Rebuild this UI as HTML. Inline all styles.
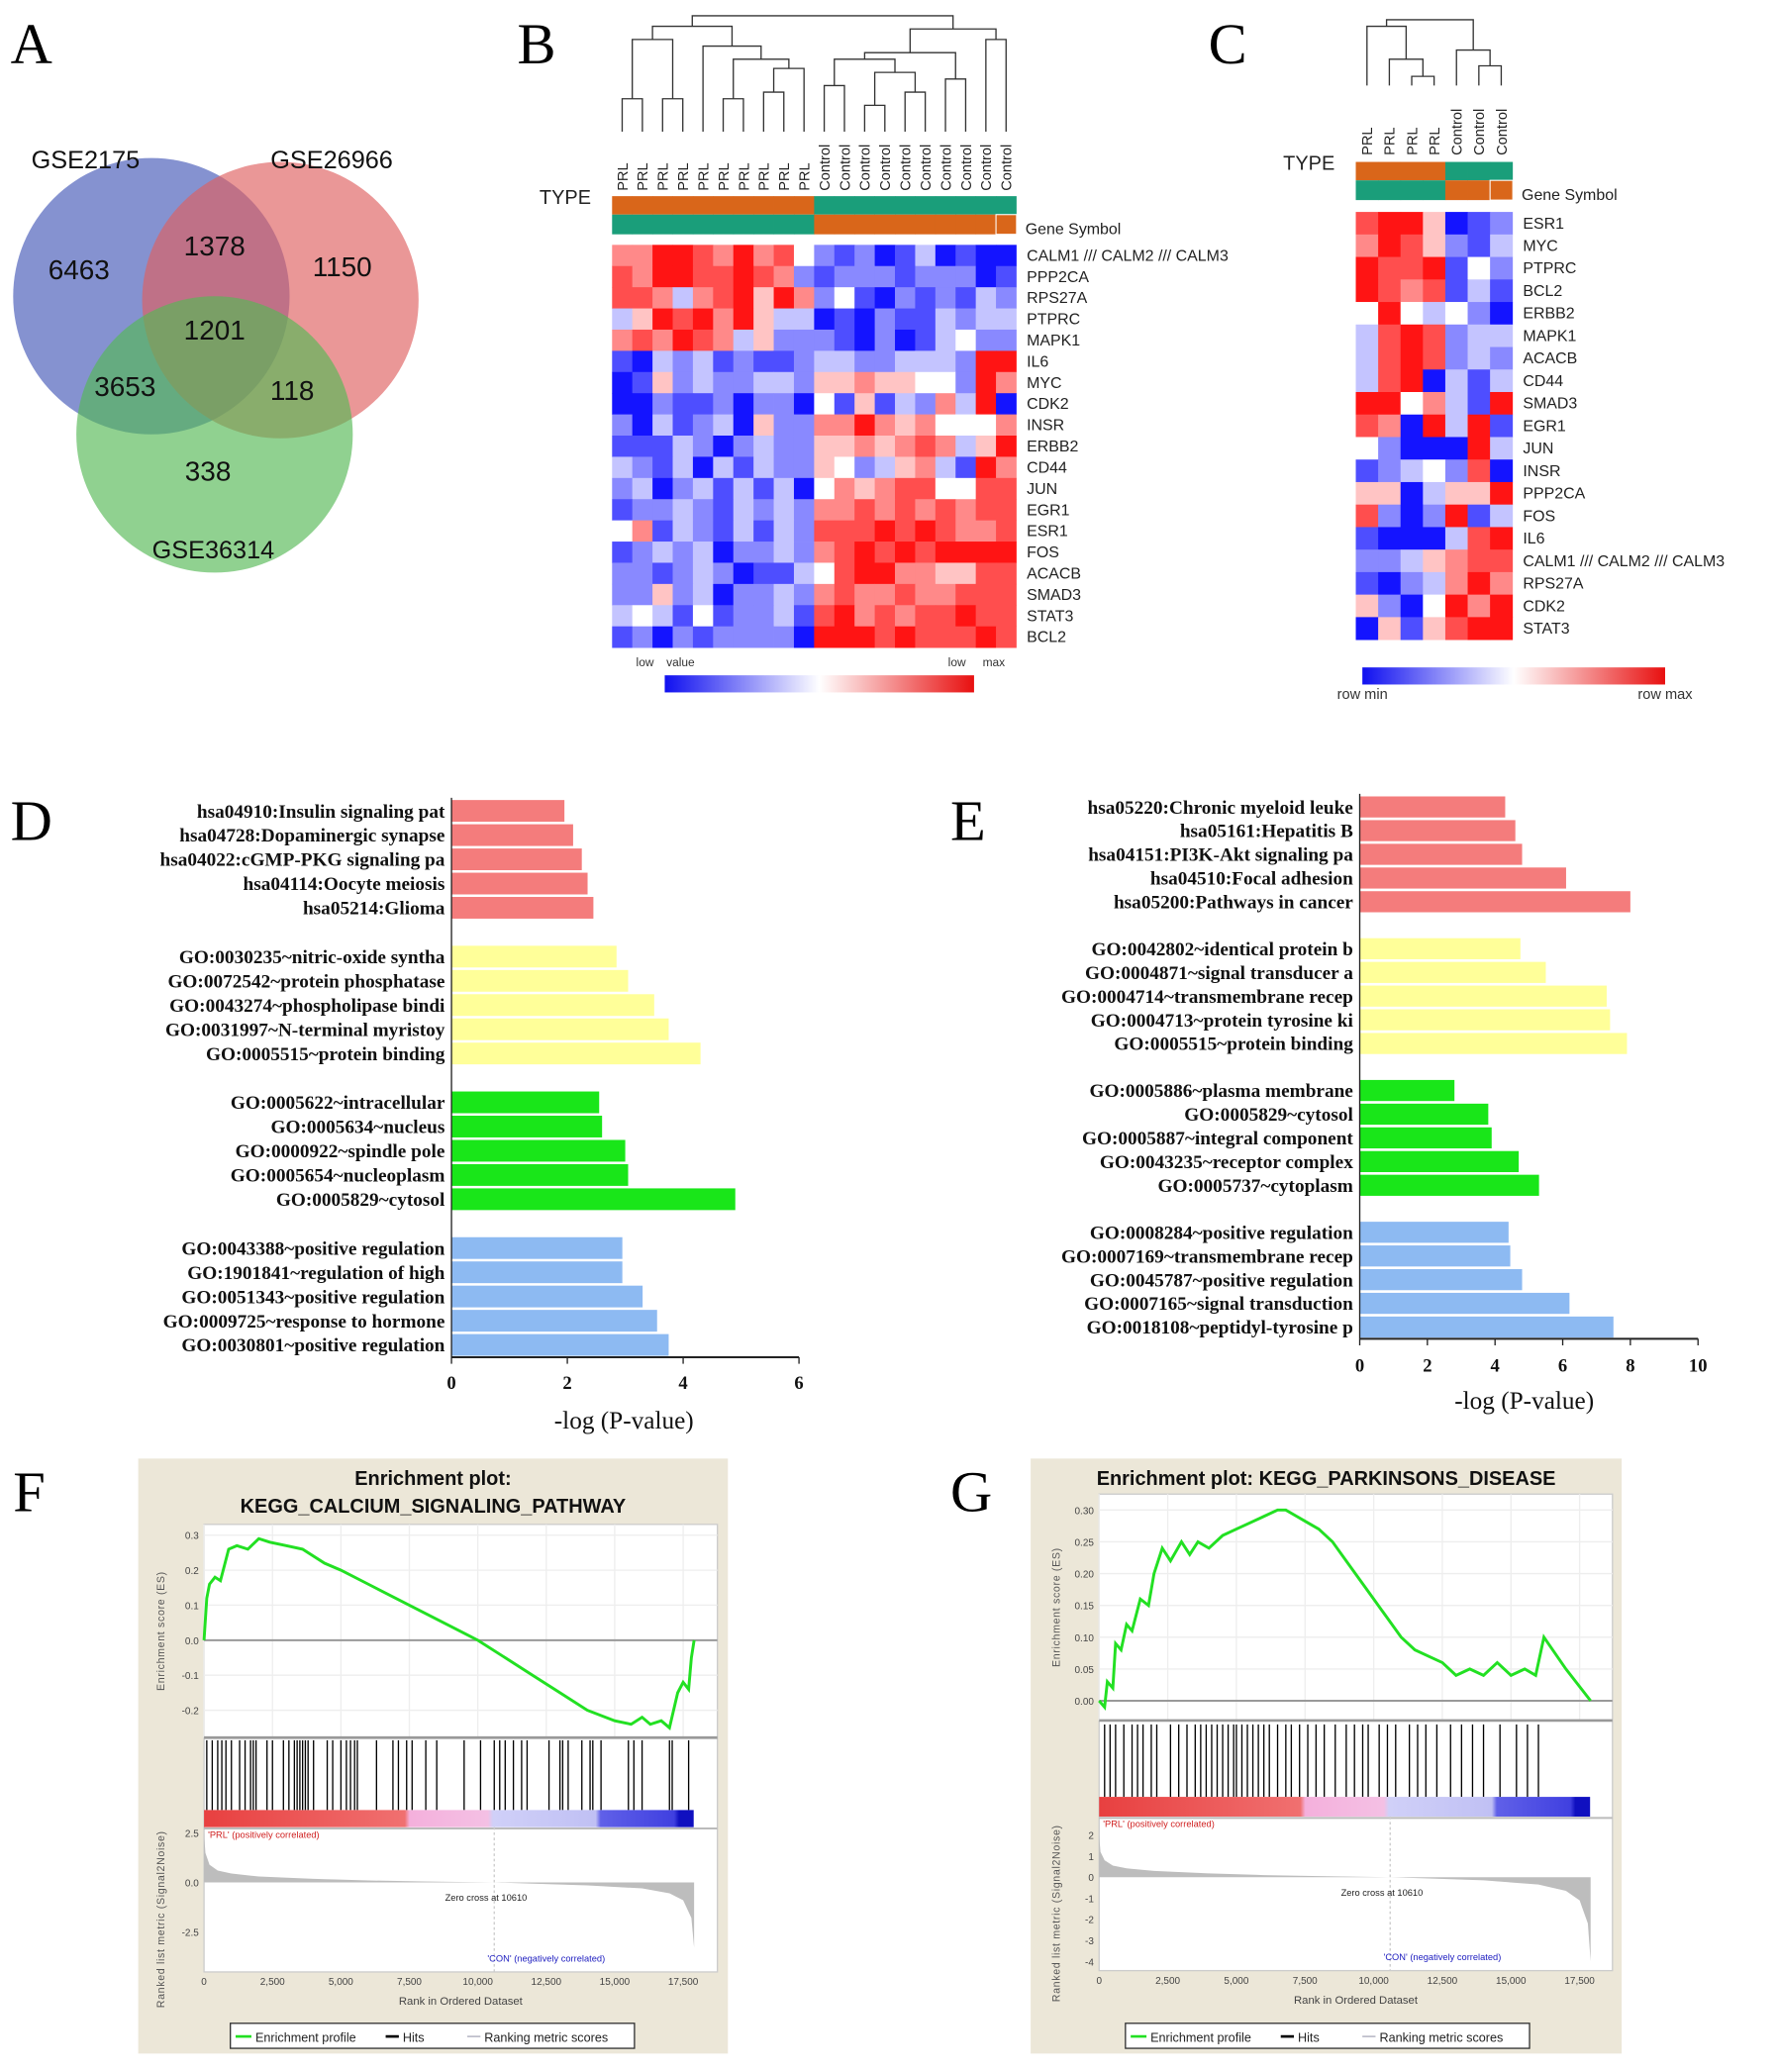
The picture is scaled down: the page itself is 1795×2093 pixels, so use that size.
<!DOCTYPE html>
<html><head><meta charset="utf-8"><style>
html,body{margin:0;padding:0;background:#fff;width:1795px;height:2093px;overflow:hidden}
svg{display:block}
.s{font-family:"Liberation Sans",sans-serif}
.r{font-family:"Liberation Serif",serif}
</style></head><body>
<svg id="fig" width="1795" height="2093" viewBox="0 0 1350 1574" preserveAspectRatio="none" xmlns="http://www.w3.org/2000/svg">
<g>
<text class="r" x="8" y="48" font-size="44">A</text>
<circle cx="115" cy="225" r="105" fill="#6677c4" fill-opacity="0.8"/>
<circle cx="213" cy="228" r="105" fill="#df5f5f" fill-opacity="0.65"/>
<circle cx="163" cy="330" r="105" fill="#55b855" fill-opacity="0.65"/>
<g class="s" font-size="19" fill="#111" text-anchor="middle">
<text x="65" y="128">GSE2175</text>
<text x="252" y="128">GSE26966</text>
<text x="162" y="424">GSE36314</text>
<g font-size="21">
<text x="60" y="212">6463</text>
<text x="163" y="194">1378</text>
<text x="260" y="210">1150</text>
<text x="163" y="258">1201</text>
<text x="95" y="301">3653</text>
<text x="222" y="304">118</text>
<text x="158" y="365">338</text>
</g></g></g>
<text class="r" x="393" y="48" font-size="44">B</text>
<text class="r" x="918" y="48" font-size="44">C</text>
<text class="r" x="8" y="638" font-size="44">D</text>
<text class="r" x="722" y="638" font-size="44">E</text>
<text class="r" x="10" y="1148" font-size="44">F</text>
<text class="r" x="722" y="1148" font-size="44">G</text>
<g id="gB"></g>
<g id="gC"></g>
<g id="gD"></g>
<g id="gE"></g>
<g id="gF"></g>
<g id="gG"></g>
</svg>
<script>
// ---------- data ----------
const bGenes=["CALM1 /// CALM2 /// CALM3","PPP2CA","RPS27A","PTPRC","MAPK1","IL6","MYC","CDK2","INSR","ERBB2","CD44","JUN","EGR1","ESR1","FOS","ACACB","SMAD3","STAT3","BCL2"];
const bSamples=["PRL","PRL","PRL","PRL","PRL","PRL","PRL","PRL","PRL","PRL","Control","Control","Control","Control","Control","Control","Control","Control","Control","Control"];
const bValues=["66887686742120130100","76887787621222122201","77636785862410212132","35878685330102113233","67687635222102013422","10323121123322333288","01523223325565544286","00211202204151326380","20312305226686564446","11132023225565676358","32130313225423563186","23023131304656774477","12232132326676767677","46132131327778787667","12323022326787878888","22123201134788665577","22523022326766766777","34314122317867677877","12021222208887877787"];
const bDendro=[[0,1,75],[2,3,75],[20,21,30],[5,6,75],[7,8,70],[24,9,52],[23,25,45],[4,26,35],[22,27,20],[10,11,65],[12,13,80],[14,15,70],[30,31,55],[29,32,45],[16,17,60],[33,34,40],[18,19,30],[35,36,22],[28,37,12]];
const cGenes=["ESR1","MYC","PTPRC","BCL2","ERBB2","MAPK1","ACACB","CD44","SMAD3","EGR1","JUN","INSR","PPP2CA","FOS","IL6","CALM1 /// CALM2 /// CALM3","RPS27A","CDK2","STAT3"];
const cSamples=["PRL","PRL","PRL","PRL","Control","Control","Control"];
const cValues=["7885012","6875213","8778142","8767131","4843420","3787233","3787232","3780313","8846318","7608381","4200083","1234270","5503558","7202813","1000378","2235677","1023686","5204868","0515788"];
const cDendro=[[2,3,58],[1,7,45],[0,8,20],[5,6,50],[4,10,38],[9,11,15]];

const dLabels=["hsa04910:Insulin signaling pat","hsa04728:Dopaminergic synapse","hsa04022:cGMP-PKG signaling pa","hsa04114:Oocyte meiosis","hsa05214:Glioma","GO:0030235~nitric-oxide syntha","GO:0072542~protein phosphatase","GO:0043274~phospholipase bindi","GO:0031997~N-terminal myristoy","GO:0005515~protein binding","GO:0005622~intracellular","GO:0005634~nucleus","GO:0000922~spindle pole","GO:0005654~nucleoplasm","GO:0005829~cytosol","GO:0043388~positive regulation","GO:1901841~regulation of high","GO:0051343~positive regulation","GO:0009725~response to hormone","GO:0030801~positive regulation"];
const dValues=[1.95,2.1,2.25,2.35,2.45,2.85,3.05,3.5,3.75,4.3,2.55,2.6,3.0,3.05,4.9,2.95,2.95,3.3,3.55,3.75];
const dTicks=[0,2,4,6];
const eLabels=["hsa05220:Chronic myeloid leuke","hsa05161:Hepatitis B","hsa04151:PI3K-Akt signaling pa","hsa04510:Focal adhesion","hsa05200:Pathways in cancer","GO:0042802~identical protein b","GO:0004871~signal transducer a","GO:0004714~transmembrane recep","GO:0004713~protein tyrosine ki","GO:0005515~protein binding","GO:0005886~plasma membrane","GO:0005829~cytosol","GO:0005887~integral component","GO:0043235~receptor complex","GO:0005737~cytoplasm","GO:0008284~positive regulation","GO:0007169~transmembrane recep","GO:0045787~positive regulation","GO:0007165~signal transduction","GO:0018108~peptidyl-tyrosine p"];
const eValues=[4.3,4.6,4.8,6.1,8.0,4.75,5.5,7.3,7.4,7.9,2.8,3.8,3.9,4.7,5.3,4.4,4.45,4.8,6.2,7.5];
const eTicks=[0,2,4,6,8,10];
const groupColors=["#f47c7c","#ffff99","#19e619","#8dbaf2"];

const fRank=[0,0.1,0.2,0.4,0.6,0.9,1.2,1.6,2.0,2.4,3.0,3.6,4.4,5.0,6.0,7.0,8.0,9.0,10.0,11.0,12.0,13.0,14.0,15.0,15.6,16.0,16.3,16.7,17.0,17.3,17.5,17.7,17.8,17.9];
const fES=[0,0.12,0.16,0.18,0.17,0.26,0.27,0.26,0.29,0.28,0.27,0.26,0.22,0.2,0.16,0.12,0.08,0.04,0.0,-0.05,-0.1,-0.15,-0.2,-0.23,-0.24,-0.22,-0.24,-0.23,-0.25,-0.15,-0.12,-0.14,-0.05,0.0];
const fHits=[0.1,0.3,0.5,0.65,0.8,1.0,1.3,1.5,1.7,1.8,1.9,2.3,2.5,2.9,3.1,3.3,3.4,3.5,3.6,3.7,3.8,4.0,4.5,4.7,5.0,5.2,5.35,5.5,5.6,6.3,6.9,7.1,7.4,7.6,8.1,8.5,9.5,10.1,10.6,10.8,11.0,11.3,11.6,11.8,12.6,13.0,13.1,13.3,13.8,14.1,14.2,14.5,15.5,15.7,16.0,17.0,17.1,17.7];
const fMetricRank=[0,0.05,0.2,0.5,1,2,4,6,8,10.6,12,14,16,17,17.5,17.8,17.9];
const fMetric=[2.5,1.5,0.9,0.6,0.45,0.3,0.18,0.1,0.05,0,-0.06,-0.15,-0.3,-0.55,-0.9,-1.8,-3.3];
const fYTicks=[0.3,0.2,0.1,0.0,-0.1,-0.2];
const fMTicks=[2.5,0.0,-2.5];

const gRank=[0,0.2,0.3,0.5,0.6,0.8,1.0,1.2,1.5,1.8,2.0,2.3,2.6,3.0,3.3,3.6,4.0,4.5,5.0,5.5,6.0,6.5,6.8,7.2,7.6,8.0,8.5,9.0,9.5,10.0,10.5,11.0,11.5,12.0,12.5,13.0,13.5,14.0,14.5,15.0,15.5,15.9,16.2,17.0,17.9];
const gES=[0.0,-0.01,0.03,0.02,0.09,0.08,0.12,0.11,0.16,0.15,0.2,0.24,0.22,0.25,0.23,0.25,0.24,0.26,0.27,0.28,0.29,0.30,0.30,0.29,0.28,0.27,0.25,0.22,0.19,0.16,0.13,0.1,0.08,0.07,0.06,0.04,0.05,0.04,0.06,0.04,0.05,0.04,0.1,0.05,0.0];
const gHits=[0.2,0.4,0.6,0.9,1.2,1.4,1.6,1.9,2.1,2.6,2.9,3.2,3.5,3.7,3.9,4.1,4.3,4.5,4.7,4.9,5.0,5.2,5.4,5.6,5.8,6.0,6.2,6.5,6.8,7.0,7.3,7.6,7.9,8.2,8.6,9.0,9.3,9.6,9.8,10.2,10.5,10.8,11.3,11.6,11.9,12.3,12.8,13.2,13.6,14.0,14.6,15.2,15.6,16.0];
const gMetricRank=[0,0.05,0.2,0.5,1,2,4,6,8,10.6,12,14,16,17,17.5,17.8,17.9];
const gMetric=[2,1.2,0.8,0.55,0.42,0.3,0.18,0.1,0.05,0,-0.06,-0.15,-0.35,-0.65,-1.1,-2.2,-4];
const gYTicks=[0.30,0.25,0.20,0.15,0.10,0.05,0.00];
const gMTicks=[2,1,0,-1,-2,-3,-4];
const rankTicks=[0,2.5,5,7.5,10,12.5,15,17.5];
const rankTickLabels=["0","2,500","5,000","7,500","10,000","12,500","15,000","17,500"];

// ---------- helpers ----------
const NS="http://www.w3.org/2000/svg";
function mk(parent,tag,attrs,text){const e=document.createElementNS(NS,tag);for(const k in attrs)e.setAttribute(k,attrs[k]);if(text!==undefined)e.textContent=text;parent.appendChild(e);return e;}
function heatColor(d){const t=d/8;let r,g,b;if(t<0.5){const u=t/0.5;r=20+235*u;g=20+235*u;b=255;}else{const u=(t-0.5)/0.5;r=255;g=255-235*u;b=255-235*u;}return `rgb(${r|0},${g|0},${b|0})`;}
const ORANGE="#d9661a",TEAL="#1a9e7a";

function heatmap(g,cfg){
  const {x0,cw,yType,yHm,rh,genes,samples,values,dendro,dTop,dBot,labelTop,gsSplit,name}=cfg;
  const n=samples.length;
  const xc=i=>x0+cw*(i+0.5);
  const nodes=[];for(let i=0;i<n;i++)nodes.push({x:xc(i),y:dBot});
  dendro.forEach(m=>{const a=nodes[m[0]],b=nodes[m[1]],y=m[2];
    const p=mk(g,"path",{d:`M${a.x},${a.y}V${y}H${b.x}V${b.y}`,fill:"none",stroke:"#333","stroke-width":1});
    
    
    nodes.push({x:(a.x+b.x)/2,y:y});});
  samples.forEach((s,i)=>{const t=mk(g,"text",{class:"s","font-size":11,fill:"#222","text-anchor":"start",transform:`translate(${xc(i)+4},${labelTop}) rotate(-90)`},s);
    
    });
  samples.forEach((s,i)=>{
    const r1=mk(g,"rect",{x:x0+cw*i,y:yType,width:cw+0.3,height:14,fill:s==="PRL"?ORANGE:TEAL});
    
    
    const r2=mk(g,"rect",{x:x0+cw*i,y:yType+14,width:cw+0.3,height:15,fill:i===n-1?ORANGE:(s==="PRL"?TEAL:ORANGE),stroke:i===n-1?"#fff":"none","stroke-width":0.8});
    
    });
  const tt=mk(g,"text",{class:"s","font-size":15,x:x0-16,y:yType+6,"text-anchor":"end",fill:"#222"},"TYPE");
  
  
  const gl=mk(g,"text",{class:"s","font-size":12,x:x0+cw*n+7,y:yType+29,fill:"#222"},"Gene Symbol");
  
  
  genes.forEach((gn,r)=>{
    for(let c=0;c<n;c++){const d=+values[r][c];
      const cell=mk(g,"rect",{x:x0+cw*c,y:yHm+rh*r,width:cw+0.3,height:rh+0.3,fill:heatColor(d)});
      
      }
    const t=mk(g,"text",{class:"s","font-size":12,x:x0+cw*n+8,y:yHm+rh*r+rh/2+4,fill:"#222"},gn);
    
    });
}

function colorbar(g,id,x,y,w,h){
  const defs=mk(g,"defs",{});const lg=mk(defs,"linearGradient",{id:id,x1:0,x2:1,y1:0,y2:0});
  mk(lg,"stop",{offset:"0",["stop-color"]:"#1010f0"});mk(lg,"stop",{offset:"0.5",["stop-color"]:"#ffffff"});mk(lg,"stop",{offset:"1",["stop-color"]:"#e81010"});
  const r=mk(g,"rect",{x:x,y:y,width:w,height:h,fill:`url(#${id})`});
  
  
}

const gB=document.getElementById("gB");
heatmap(gB,{x0:465,cw:15.35,yType:149,yHm:186,rh:16.1,genes:bGenes,samples:bSamples,values:bValues,dendro:bDendro,dTop:12,dBot:100,labelTop:145,gsSplit:10});
colorbar(gB,"cbB",505,513,235,13);
[["low",490,506],["value",517,506],["low",727,506],["max",755,506]].forEach(a=>{const t=mk(gB,"text",{class:"s","font-size":9,x:a[1],y:a[2],"text-anchor":"middle",fill:"#333"},a[0]);
  
  });
const gC=document.getElementById("gC");
heatmap(gC,{x0:1030,cw:17,yType:123,yHm:161,rh:17.1,genes:cGenes,samples:cSamples,values:cValues,dendro:cDendro,dTop:15,dBot:65,labelTop:118,gsSplit:4});
colorbar(gC,"cbC",1035,507,230,13);
[["row  min",1035,531],["row  max",1265,531]].forEach(a=>{const t=mk(gC,"text",{class:"s","font-size":11,x:a[1],y:a[2],"text-anchor":"middle",fill:"#333"},a[0]);
  
  });

function barChart(g,cfg){
  const {axX,unit,y0,step,gap,barH,labels,values,ticks,axisY,title,titleY,tickY}=cfg;
  const xS=v=>axX+v*unit;
  const yS=i=>y0+Math.floor(i/5)*gap+(i%5)*step;
  labels.forEach((l,i)=>{
    const b=mk(g,"rect",{x:xS(0),y:yS(i)-barH/2,width:xS(values[i])-xS(0),height:barH,fill:groupColors[Math.floor(i/5)]});
    
    
    const t=mk(g,"text",{class:"r","font-size":14.5,"font-weight":"bold",x:axX-5,y:yS(i)+5,"text-anchor":"end",fill:"#111"},l);
    
    });
  const ya=mk(g,"line",{x1:axX,x2:axX,y1:yS(0)-10,y2:axisY,stroke:"#222","stroke-width":1});
  
  
  const xa=mk(g,"line",{x1:axX,x2:xS(ticks[ticks.length-1]),y1:axisY,y2:axisY,stroke:"#222","stroke-width":1.5});
  
  
  ticks.forEach(tv=>{mk(g,"line",{x1:xS(tv),x2:xS(tv),y1:axisY,y2:axisY+5,stroke:"#222"});
    const t=mk(g,"text",{class:"r","font-size":14,"font-weight":"bold",x:xS(tv),y:tickY,"text-anchor":"middle",fill:"#111"},String(tv));
    
    });
  const tt=mk(g,"text",{class:"r","font-size":19,x:title,y:titleY,"text-anchor":"middle",fill:"#111"},"-log (P-value)");
  
  
}
barChart(document.getElementById("gD"),{axX:343,unit:44,y0:616,step:18.4,gap:110.7,barH:16.5,labels:dLabels,values:dValues,ticks:dTicks,axisY:1031,title:474,titleY:1085,tickY:1055});
barChart(document.getElementById("gE"),{axX:1033,unit:25.7,y0:613,step:18,gap:107.7,barH:16,labels:eLabels,values:eValues,ticks:eTicks,axisY:1017,title:1158,titleY:1070,tickY:1042});

function gsea(g,cfg){
  const {bx,by,bw,bh,titles,px0,px1,pxEnd,kPer,esTop,esBot,esZero,esUnit,rank,es,yTicks,hitTop,hitBot,cbBot,mTop,mBot,mZero,mUnit,mRank,metric,mTicks,legendX,zeroText}=cfg;
  const xS=k=>px0+k*kPer, yE=v=>esZero-v*esUnit, yM=v=>mZero-v*mUnit;
  const bg=mk(g,"rect",{x:bx,y:by,width:bw,height:bh,fill:"#ece7d8"});
  
  
  titles.forEach((tx,i)=>{const t=mk(g,"text",{class:"s","font-size":15,"font-weight":"bold",x:bx+bw/2,y:by+20+i*21,"text-anchor":"middle",fill:"#111"},tx);
    
    });
  const pr=mk(g,"rect",{x:px0,y:esTop,width:px1-px0,height:mBot-esTop,fill:"#fff",stroke:"#ccc"});
  
  
  rankTicks.forEach(k=>mk(g,"line",{x1:xS(k),x2:xS(k),y1:esTop,y2:esBot,stroke:"#eee"}));
  yTicks.forEach(v=>{mk(g,"line",{x1:px0,x2:px1,y1:yE(v),y2:yE(v),stroke:v===0?"#999":"#eee","stroke-width":v===0?1.5:1});
    const t=mk(g,"text",{class:"s","font-size":7.5,x:px0-4,y:yE(v)+3,"text-anchor":"end",fill:"#444"},v.toFixed(yTicks[0]<0.25||yTicks.length>6?2:1));
    
    });
  const line=mk(g,"polyline",{points:rank.map((k,i)=>`${xS(k)},${yE(es[i])}`).join(" "),fill:"none",stroke:"#22e022","stroke-width":2.2});
  
  
  mk(g,"line",{x1:px0,x2:px1,y1:esBot,y2:esBot,stroke:"#999","stroke-width":2});
  cfg.hits.forEach(k=>{const h=mk(g,"line",{x1:xS(k),x2:xS(k),y1:hitTop,y2:hitBot,stroke:"#000","stroke-width":1});
    
    });
  const defs=mk(g,"defs",{});const lg=mk(defs,"linearGradient",{id:cfg.id,x1:0,x2:1,y1:0,y2:0});
  [["0","#e84040"],["0.41","#f07070"],["0.42","#f4b0dc"],["0.58","#f4c0e4"],["0.59","#d0d0f8"],["0.8","#c0c0f4"],["0.81","#6060e8"],["0.96","#4040e0"],["0.97","#1010c0"],["1","#1010c0"]].forEach(s=>mk(lg,"stop",{offset:s[0],"stop-color":s[1]}));
  const cb=mk(g,"rect",{x:px0,y:hitBot,width:pxEnd-px0,height:cbBot-hitBot,fill:`url(#${cfg.id})`});
  
  
  mk(g,"line",{x1:px0,x2:px1,y1:cbBot+1,y2:cbBot+1,stroke:"#bbb","stroke-width":1.5});
  const area=mk(g,"polygon",{points:`${xS(0)},${yM(0)} `+mRank.map((k,i)=>`${xS(k)},${yM(metric[i])}`).join(" ")+` ${xS(mRank[mRank.length-1])},${yM(0)}`,fill:"#bdbdbd"});
  
  
  mk(g,"line",{x1:xS(10.6),x2:xS(10.6),y1:cbBot,y2:mBot,stroke:"#ccc","stroke-dasharray":"2,2"});
  mTicks.forEach(v=>{const t=mk(g,"text",{class:"s","font-size":7.5,x:px0-4,y:yM(v)+3,"text-anchor":"end",fill:"#444"},String(v===0&&mTicks[0]===2.5?"0.0":v));
    
    });
  rankTicks.forEach((k,i)=>{const t=mk(g,"text",{class:"s","font-size":7.5,x:xS(k),y:mBot+10,"text-anchor":"middle",fill:"#444"},rankTickLabels[i]);
    
    });
  const a=mk(g,"text",{class:"s","font-size":8.5,x:(px0+px1)/2,y:mBot+25,"text-anchor":"middle",fill:"#444"},"Rank in Ordered Dataset");
  
  
  const e1=mk(g,"text",{class:"s","font-size":8,transform:`translate(${px0-30},${(esTop+esBot)/2}) rotate(-90)`,"text-anchor":"middle",fill:"#555","letter-spacing":"0.5"},"Enrichment score (ES)");
  
  
  const e2=mk(g,"text",{class:"s","font-size":8,transform:`translate(${px0-30},${(cbBot+mBot)/2+15}) rotate(-90)`,"text-anchor":"middle",fill:"#555","letter-spacing":"0.5"},"Ranked list metric (Signal2Noise)");
  
  
  const p1=mk(g,"text",{class:"s","font-size":7,x:px0+3,y:cbBot+8,fill:"#d02020"},"'PRL' (positively correlated)");
  
  
  const p2=mk(g,"text",{class:"s","font-size":7,x:xS(12.5),y:mBot-8,"text-anchor":"middle",fill:"#2020c0"},"'CON' (negatively correlated)");
  
  
  const z=mk(g,"text",{class:"s","font-size":7,x:xS(10.3),y:mZero+14,"text-anchor":"middle",fill:"#222"},zeroText);
  
  
  const lgb=mk(g,"rect",{x:legendX,y:by+bh-23,width:307,height:19,fill:"#fff",stroke:"#333"});
  
  
  mk(g,"line",{x1:legendX+4,x2:legendX+16,y1:by+bh-13,y2:by+bh-13,stroke:"#22e022","stroke-width":2});
  mk(g,"line",{x1:legendX+118,x2:legendX+128,y1:by+bh-13,y2:by+bh-13,stroke:"#000","stroke-width":2});
  mk(g,"line",{x1:legendX+180,x2:legendX+190,y1:by+bh-13,y2:by+bh-13,stroke:"#aab","stroke-width":1});
  [["Enrichment profile",legendX+19],["Hits",legendX+131],["Ranking metric scores",legendX+193]].forEach(l=>{const t=mk(g,"text",{class:"s","font-size":9.5,x:l[1],y:by+bh-9,fill:"#222"},l[0]);
    
    });
}
gsea(document.getElementById("gF"),{id:"cbF",bx:105,by:1108,bw:448,bh:452,titles:["Enrichment plot:","KEGG_CALCIUM_SIGNALING_PATHWAY"],px0:155,px1:545,pxEnd:527,kPer:20.8,esTop:1158,esBot:1320,esZero:1246,esUnit:266,rank:fRank,es:fES,yTicks:fYTicks,hitTop:1322,hitBot:1375,cbBot:1388,mTop:1388,mBot:1498,mZero:1430,mUnit:15,mRank:fMetricRank,metric:fMetric,mTicks:fMTicks,legendX:175,zeroText:"Zero cross at 10610",hits:fHits});
gsea(document.getElementById("gG"),{id:"cbG",bx:783,by:1108,bw:449,bh:452,titles:["Enrichment plot: KEGG_PARKINSONS_DISEASE"],px0:835,px1:1225,pxEnd:1208,kPer:20.86,esTop:1135,esBot:1307,esZero:1292,esUnit:483,rank:gRank,es:gES,yTicks:gYTicks,hitTop:1310,hitBot:1365,cbBot:1380,mTop:1385,mBot:1497,mZero:1426,mUnit:16,mRank:gMetricRank,metric:gMetric,mTicks:gMTicks,legendX:855,zeroText:"Zero cross at 10610",hits:gHits});
</script>
</body></html>
